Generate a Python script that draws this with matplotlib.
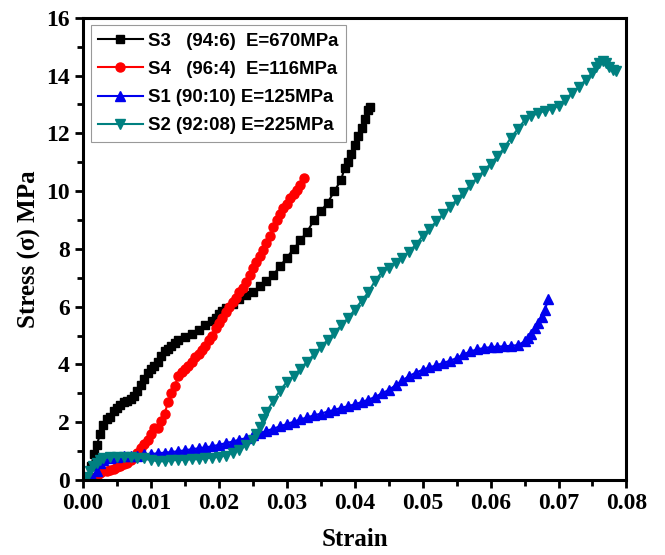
import matplotlib
matplotlib.use('Agg')
import matplotlib.pyplot as plt
from matplotlib.ticker import MultipleLocator

# S3 (94:6)
s3_x = [0.0008, 0.0012, 0.0016, 0.002, 0.0025, 0.003, 0.0035, 0.004, 0.0045, 0.005,
        0.0055, 0.006, 0.0065, 0.007, 0.0075, 0.008, 0.0085, 0.009, 0.0095, 0.010,
        0.0105, 0.011, 0.0115, 0.012, 0.0125, 0.013, 0.0135, 0.014, 0.015, 0.016,
        0.017, 0.018, 0.019, 0.0195, 0.020, 0.0205, 0.021, 0.022, 0.023, 0.024,
        0.025, 0.026, 0.027, 0.028, 0.029, 0.030, 0.031, 0.032, 0.033, 0.034,
        0.035, 0.036, 0.037, 0.038, 0.0385, 0.039, 0.0395, 0.040, 0.0405, 0.041,
        0.0415, 0.042, 0.0423]
s3_y = [0.1, 0.5, 0.9, 1.2, 1.6, 1.9, 2.1, 2.2, 2.4, 2.5,
        2.6, 2.7, 2.75, 2.8, 2.9, 3.1, 3.3, 3.5, 3.7, 3.85,
        3.95, 4.1, 4.3, 4.45, 4.55, 4.65, 4.75, 4.85, 4.95, 5.05,
        5.2, 5.35, 5.5, 5.6, 5.75, 5.85, 5.95, 6.1, 6.25, 6.4,
        6.5, 6.7, 6.9, 7.1, 7.4, 7.7, 8.0, 8.3, 8.6, 9.0,
        9.3, 9.6, 10.0, 10.4, 10.8, 11.0, 11.3, 11.6, 11.9, 12.2,
        12.5, 12.8, 12.9]

# S4 (96:4)
s4_x = [0.0015, 0.002, 0.0025, 0.003, 0.0035, 0.004, 0.0045, 0.005, 0.0055, 0.006,
        0.0065, 0.007, 0.0075, 0.008, 0.0085, 0.009, 0.0095, 0.010, 0.0105, 0.011,
        0.0115, 0.012, 0.0125, 0.013, 0.0135, 0.014, 0.0145, 0.015, 0.0155, 0.016,
        0.0165, 0.017, 0.0175, 0.018, 0.0185, 0.019, 0.0195, 0.020, 0.0205, 0.021,
        0.0215, 0.022, 0.0225, 0.023, 0.0235, 0.024, 0.0245, 0.025, 0.0255, 0.026,
        0.0265, 0.027, 0.0275, 0.028, 0.0285, 0.029, 0.0295, 0.030, 0.0305, 0.031,
        0.0315, 0.032, 0.0325]
s4_y = [0.05, 0.15, 0.25, 0.3, 0.3, 0.35, 0.4, 0.45, 0.5, 0.55,
        0.6, 0.7, 0.8, 0.95, 1.1, 1.25, 1.4, 1.6, 1.8, 1.8,
        2.05, 2.3, 2.7, 3.0, 3.25, 3.6, 3.75, 3.85, 3.95, 4.1,
        4.25, 4.35, 4.5, 4.65, 4.85, 5.0, 5.25, 5.45, 5.6, 5.8,
        6.0, 6.15, 6.3, 6.5, 6.65, 6.85, 7.1, 7.35, 7.55, 7.75,
        7.95, 8.2, 8.45, 8.75, 9.0, 9.2, 9.4, 9.55, 9.75, 9.9,
        10.05, 10.2, 10.45]

# S1 (90:10)
s1_x = [0.0005, 0.001, 0.0015, 0.002, 0.0025, 0.003, 0.004, 0.005, 0.006, 0.007,
        0.008, 0.009, 0.010, 0.011, 0.012, 0.013, 0.014, 0.015, 0.016, 0.017,
        0.018, 0.019, 0.020, 0.021, 0.022, 0.023, 0.024, 0.025, 0.026, 0.027,
        0.028, 0.029, 0.030, 0.031, 0.032, 0.033, 0.034, 0.035, 0.036, 0.037,
        0.038, 0.039, 0.040, 0.041, 0.042, 0.043, 0.044, 0.045, 0.046, 0.047,
        0.048, 0.049, 0.050, 0.051, 0.052, 0.053, 0.054, 0.055, 0.056, 0.057,
        0.058, 0.059, 0.060, 0.061, 0.062, 0.063, 0.064, 0.065, 0.0655, 0.066,
        0.0665, 0.067, 0.0675, 0.068, 0.0685]
s1_y = [0.1, 0.05, 0.05, 0.3, 0.6, 0.7, 0.75, 0.8, 0.85, 0.85,
        0.85, 0.9, 0.9, 0.93, 0.95, 0.97, 1.0, 1.03, 1.07, 1.1,
        1.13, 1.17, 1.22, 1.28, 1.33, 1.4, 1.45, 1.55, 1.62, 1.7,
        1.78, 1.86, 1.94, 2.02, 2.1, 2.17, 2.24, 2.3, 2.37, 2.43,
        2.5, 2.56, 2.62, 2.7, 2.78, 2.88, 3.0, 3.12, 3.28, 3.45,
        3.6, 3.72, 3.82, 3.9, 3.97, 4.05, 4.13, 4.22, 4.35, 4.45,
        4.52, 4.57, 4.6, 4.62, 4.63, 4.65, 4.67, 4.8, 4.9, 5.05,
        5.25, 5.45, 5.65, 5.9, 6.25]

# S2 (92:08)
s2_x = [0.0005, 0.001, 0.0015, 0.002, 0.0025, 0.003, 0.004, 0.005, 0.006, 0.007,
        0.008, 0.009, 0.010, 0.011, 0.012, 0.013, 0.014, 0.015, 0.016, 0.017,
        0.018, 0.019, 0.020, 0.021, 0.022, 0.023, 0.024, 0.025, 0.0255, 0.026,
        0.0265, 0.027, 0.028, 0.029, 0.030, 0.031, 0.032, 0.033, 0.034, 0.035,
        0.036, 0.037, 0.038, 0.039, 0.040, 0.041, 0.042, 0.043, 0.044, 0.045,
        0.046, 0.047, 0.048, 0.049, 0.050, 0.051, 0.052, 0.053, 0.054, 0.055,
        0.056, 0.057, 0.058, 0.059, 0.060, 0.061, 0.062, 0.063, 0.064, 0.065,
        0.066, 0.067, 0.068, 0.069, 0.070, 0.071, 0.072, 0.073, 0.074, 0.075,
        0.0755, 0.076, 0.0765, 0.077, 0.0775, 0.078, 0.0785]
s2_y = [0.1, 0.3, 0.5, 0.6, 0.7, 0.75, 0.8, 0.8, 0.8, 0.8,
        0.78, 0.75, 0.7, 0.65, 0.65, 0.68, 0.7, 0.7, 0.72, 0.72,
        0.75, 0.78, 0.8, 0.85, 0.95, 1.05, 1.2, 1.4, 1.6, 1.85,
        2.1, 2.35, 2.75, 3.1, 3.4, 3.6, 3.85, 4.1, 4.35, 4.6,
        4.85, 5.1, 5.35, 5.6, 5.9, 6.2, 6.5, 6.9, 7.2, 7.35,
        7.5, 7.7, 7.9, 8.15, 8.45, 8.7, 8.95, 9.2, 9.45, 9.7,
        9.95, 10.2, 10.45, 10.7, 10.95, 11.2, 11.5, 11.85, 12.15, 12.45,
        12.6, 12.7, 12.78, 12.85, 12.95, 13.15, 13.4, 13.6, 13.85, 14.1,
        14.3, 14.45, 14.5, 14.45, 14.3, 14.2, 14.15]

labels = ['S3   (94:6)  E=670MPa', 'S4   (96:4)  E=116MPa',
          'S1 (90:10) E=125MPa', 'S2 (92:08) E=225MPa']

fig = plt.figure(figsize=(6.65, 5.55), dpi=100)
ax = fig.add_axes([0.125, 0.135, 0.817, 0.833])

ax.plot(s3_x, s3_y, color='black', marker='s', markersize=6, lw=1.5, label=labels[0])
ax.plot(s4_x, s4_y, color='#ff0000', marker='o', markersize=6.5, lw=1.5, label=labels[1])
ax.plot(s1_x, s1_y, color='#0000ee', marker='^', markersize=7, lw=1.5, label=labels[2])
ax.plot(s2_x, s2_y, color='#008080', marker='v', markersize=7, lw=1.5, label=labels[3])

ax.set_xlim(0, 0.08)
ax.set_ylim(0, 16)
ax.xaxis.set_major_locator(MultipleLocator(0.01))
ax.xaxis.set_minor_locator(MultipleLocator(0.005))
ax.yaxis.set_major_locator(MultipleLocator(2))
ax.yaxis.set_minor_locator(MultipleLocator(1))
ax.xaxis.set_major_formatter(plt.FuncFormatter(lambda v, p: '%.2f' % v))

for s in ax.spines.values():
    s.set_linewidth(2.2)
ax.tick_params(which='major', direction='out', length=6, width=2, top=False, right=False)
ax.tick_params(which='minor', direction='out', length=4, width=2, top=False, right=False)
for lab in ax.get_xticklabels() + ax.get_yticklabels():
    lab.set_fontfamily('Liberation Serif')
    lab.set_fontweight('bold')
    lab.set_fontsize(17)

ax.set_xlabel('Strain', fontfamily='Liberation Serif', fontweight='bold', fontsize=18, labelpad=10)
ax.set_ylabel('Stress (σ) MPa', fontfamily='Liberation Serif', fontweight='bold', fontsize=18, labelpad=4)

leg = ax.legend(loc='upper left', prop={'family': 'Liberation Sans', 'weight': 'bold', 'size': 13.4},
                fancybox=False, framealpha=1, edgecolor='#999999', handlelength=2.4,
                borderpad=0.4, labelspacing=0.6, handletextpad=0.3, borderaxespad=0.4)
leg.get_frame().set_linewidth(0.8)

fig.savefig('out.png', dpi=100)
